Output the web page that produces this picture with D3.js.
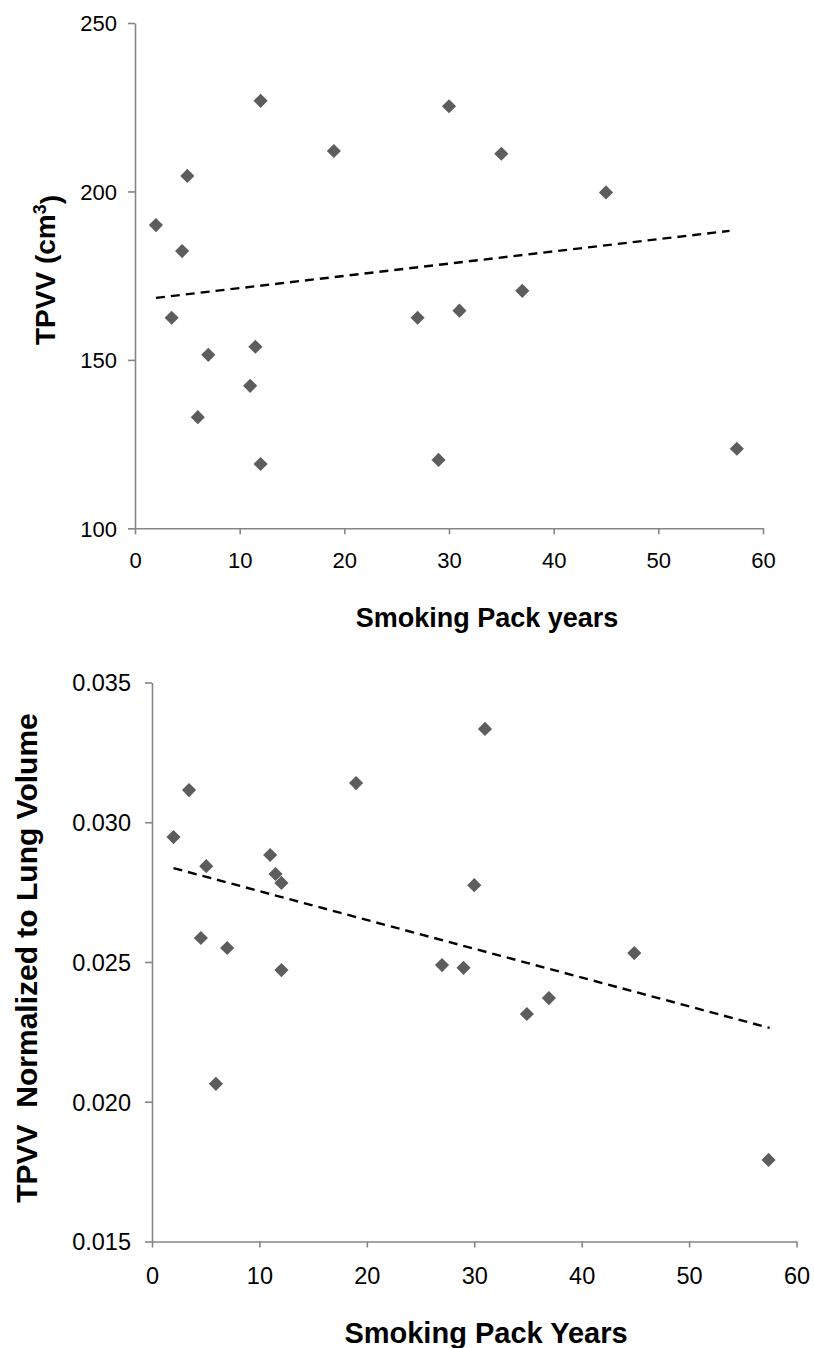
<!DOCTYPE html>
<html>
<head>
<meta charset="utf-8">
<script src="https://cdn.jsdelivr.net/npm/d3@7"></script>
<style>
html, body { margin: 0; padding: 0; background: #fff; }
svg { display: block; font-family: "Liberation Sans", Arial, sans-serif; }
</style>
</head>
<body>
<svg id="chart" width="814" height="1348"></svg>
<script>
// ---- Data ----
const packYears1 = [2, 3.5, 4.5, 5, 6, 7, 11, 11.5, 12, 12, 19, 27, 29, 30, 31, 35, 37, 45, 57.5];
const tpvv       = [190, 162.5, 182.3, 204.6, 133, 151.5, 142.3, 153.9, 226.9, 119.1, 212, 162.5, 120.3, 225.3, 164.6, 211.2, 170.5, 199.7, 123.6];
const trend1X = [2, 56.8];
const trend1Y = [168.4, 188.3];
const yTicks1 = [100, 150, 200, 250];

const packYears2 = [2, 3.45, 4.55, 5.05, 5.95, 7, 11, 11.5, 12.05, 12.05, 19, 27, 29, 30, 31, 34.9, 36.95, 44.9, 57.4];
const tpvvNorm   = [0.02947, 0.03115, 0.02586, 0.02843, 0.02064, 0.02550, 0.02883, 0.02815, 0.02783, 0.02471, 0.03140, 0.02489, 0.02479, 0.02775, 0.03334, 0.02314, 0.02371, 0.02532, 0.01792];
const trend2X = [2, 57.5];
const trend2Y = [0.02836, 0.02264];
const yTicks2 = [0.015, 0.020, 0.025, 0.030, 0.035];

const xTicks = [0, 10, 20, 30, 40, 50, 60];

const svg = d3.select("#chart");
const axisColor = "#868686";
const markColor = "#5d5d5d";
const diamond = d3.symbol().type(d3.symbolSquare).size(100);

function drawPanel(cfg) {
  const x = d3.scaleLinear().domain([0, 60]).range(cfg.xRange);
  const y = d3.scaleLinear().domain(cfg.yDomain).range(cfg.yRange);
  const g = svg.append("g");

  const xAxis = d3.axisBottom(x).tickValues(xTicks).tickSize(6).tickSizeOuter(0).tickFormat(d3.format("d"));
  const yAxis = d3.axisLeft(y).tickValues(cfg.yTicks).tickSize(7).tickSizeOuter(0).tickFormat(cfg.yFormat);

  const gx = g.append("g").attr("transform", `translate(0,${cfg.yRange[0]})`).call(xAxis);
  const gy = g.append("g").attr("transform", `translate(${cfg.xRange[0]},0)`).call(yAxis);
  [gx, gy].forEach(a => {
    a.attr("font-size", null).attr("font-family", null);
    a.select(".domain").attr("stroke", axisColor).attr("stroke-width", 1.6);
    a.selectAll(".tick line").attr("stroke", axisColor).attr("stroke-width", 1.6);
    a.selectAll(".tick text").attr("fill", "#000").style("font-size", cfg.tickFont + "px")
      .style("font-family", '"Liberation Sans", Arial, sans-serif');
  });
  gx.selectAll(".tick text").attr("dy", null).attr("y", cfg.xLabelBaseline - cfg.yRange[0]);
  gy.selectAll(".tick text").attr("x", -(cfg.yLabelGap)).attr("dy", "0.36em");

  // trend line
  const pts = cfg.trendX.map((v, i) => [v, cfg.trendY[i]]);
  g.append("path")
    .attr("d", d3.line().x(d => x(d[0])).y(d => y(d[1]))(pts))
    .attr("fill", "none").attr("stroke", "#000").attr("stroke-width", 2.4)
    .attr("stroke-dasharray", "9,6");

  // points
  const data = cfg.xs.map((v, i) => [v, cfg.ys[i]]);
  g.selectAll("path.pt").data(data).enter().append("path")
    .attr("class", "pt")
    .attr("d", diamond)
    .attr("transform", d => `translate(${x(d[0])},${y(d[1])}) rotate(45)`)
    .attr("fill", markColor);

  return g;
}

drawPanel({
  xRange: [135, 763], yDomain: [100, 250], yRange: [528.3, 23],
  yTicks: yTicks1, yFormat: d3.format("d"), tickFont: 22,
  xLabelBaseline: 568, yLabelGap: 18,
  trendX: trend1X, trendY: trend1Y, xs: packYears1, ys: tpvv
});

drawPanel({
  xRange: [152, 796.5], yDomain: [0.015, 0.035], yRange: [1241.5, 682.5],
  yTicks: yTicks2, yFormat: d3.format(".3f"), tickFont: 23.5,
  xLabelBaseline: 1284, yLabelGap: 21,
  trendX: trend2X, trendY: trend2Y, xs: packYears2, ys: tpvvNorm
});

// Axis titles
const t1 = svg.append("text")
  .attr("transform", "translate(55,270) rotate(-90)")
  .attr("text-anchor", "middle")
  .style("font-size", "28px").style("font-weight", "bold");
t1.append("tspan").text("TPVV (cm");
t1.append("tspan").text("3").attr("dy", "-0.5em").style("font-size", "18px");
t1.append("tspan").text(")").attr("dy", "0.5em");

svg.append("text")
  .attr("x", 487).attr("y", 627)
  .attr("text-anchor", "middle")
  .style("font-size", "27px").style("font-weight", "bold")
  .text("Smoking Pack years");

svg.append("text")
  .attr("transform", "translate(37,958) rotate(-90)")
  .attr("text-anchor", "middle")
  .attr("xml:space", "preserve")
  .style("white-space", "pre")
  .style("font-size", "30px").style("font-weight", "bold")
  .text("TPVV  Normalized to Lung Volume");

svg.append("text")
  .attr("x", 486).attr("y", 1343)
  .attr("text-anchor", "middle")
  .style("font-size", "29px").style("font-weight", "bold")
  .text("Smoking Pack Years");
</script>
</body>
</html>
